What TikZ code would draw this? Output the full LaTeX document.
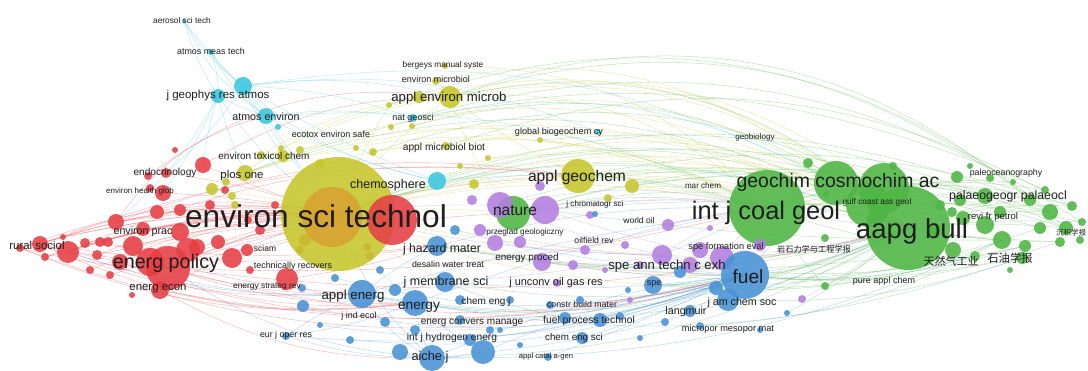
\documentclass[tikz,border=0pt]{standalone}
\usepackage{fontspec}
\setmainfont{Liberation Sans}
\newfontfamily\cjkf{Noto Sans CJK SC}
\usetikzlibrary{backgrounds}
\definecolor{vred}{RGB}{230,62,68}
\definecolor{vgreen}{RGB}{78,182,68}
\definecolor{vblue}{RGB}{72,146,214}
\definecolor{vyellow}{RGB}{198,198,44}
\definecolor{vpurple}{RGB}{178,126,224}
\definecolor{vcyan}{RGB}{58,198,222}
\definecolor{vorange}{RGB}{216,162,48}
\definecolor{labc}{RGB}{30,30,30}
\begin{document}
\begin{tikzpicture}[x=1pt,y=-1pt,
  bub/.style={circle,inner sep=0pt,draw=none,fill opacity=0.88},
  edge/.style={line width=0.55pt,opacity=0.32},
  lab/.style={inner sep=0pt,anchor=base,text=labc,font=\fontsize{#1}{#1}\selectfont}]
\useasboundingbox (0,0) rectangle (1088,371);
% ---------------- bubbles ----------------
\foreach \n/\x/\y/\r in {ep/168/268/22, ep2/150/262/14, ep3/188/250/12, r116/116/222/8, r163/163/193/8,
  r157/157/212/7, r143/143/229/7, r203/203/165/8, endo/166/173/5, r148/148/176/4, r40/40/244/8,
  r68/68/252/11, r85/85/243/5, r100/100/242/5, r108/108/242/5, r97/97/255/5, r63/63/237/3, r45/45/257/4,
  r120/120/262/8, r132/132/295/3, econ/160/290/9, r197/197/247/8, r218/218/242/7, r232/232/258/10,
  r247/247/250/6, r287/287/279/11, r370/370/256/4, r367/367/247/4, r133/133/246/10,
  r180/180/232/9, r210/210/205/5, r225/225/190/4, r260/260/230/5, r275/275/205/4, r180b/180/210/6,
  r150/150/188/4, r175/175/150/3, r300/300/250/4, r20/20/248/4, r90/90/270/4, r110/110/275/4,
  r250/250/270/4, r305/305/240/6, r248/248/220/4}
  \node[bub,fill=vred,minimum size=2*\r] (\n) at (\x,\y) {};
\foreach \n/\x/\y/\r in {est/338/214/57, aem/450/97/11, aem2/419/97/6, em/436/81/4, bms/445/66/3,
  y389/389/105/3, y391/391/127/3, y412/412/126/3, y373/373/152/4, y445/446/146/4, y488/488/158/3,
  y540/540/140/3, ag/578/176/17, y632/632/186/7, y608/608/198/4, plos/245/173/8, y262/261/155/4,
  y283/283/156/6, y282/281/148/3, y320/320/164/5, y212/212/189/6, y232/232/196/4, y226/226/182/4,
  y300/300/150/4, y460/460/166/3, y474/474/184/5, y355/356/148/3, y235/235/205/4}
  \node[bub,fill=vyellow,minimum size=2*\r] (\n) at (\x,\y) {};
\node[bub,fill=vorange,minimum size=60] (esto) at (332,217) {};
\node[bub,fill=vred,minimum size=50] (estr) at (392,220) {};
\foreach \n/\x/\y/\r in {jgr1/218/96/7, jgr2/243/86/9, ae/266/116/8, amt/211/52/3, aer/184/21/2,
  chemc/437/181/9, ngc/413/118/4, gbc/598/132/3, c278/278/127/3}
  \node[bub,fill=vcyan,minimum size=2*\r] (\n) at (\x,\y) {};
\foreach \n/\x/\y/\r in {g870/868/205/22, coal/767/208/38, geo1/836/183/22, geo2/884/188/25, aapg/908/228/42,
  nature/513/213/17, g808/808/163/5, g893/893/166/4, g957/957/177/6, g970/970/166/3, g1013/1013/182/3,
  g960/960/200/6, g985/985/196/8, g1000/1000/212/6, g1030/1030/200/6, g1050/1050/212/8, g1040/1040/228/6,
  g1060/1060/242/5, g1072/1072/206/5, g1002/1002/240/9, g1025/1025/246/6, g975/975/256/5, g953/953/250/8,
  g935/935/230/6, g963/963/218/7, g1022/1022/258/6, g1066/1066/228/7, g1082/1082/222/4, g825/825/238/4,
  g825b/826/194/3, g825c/825/286/4, g985b/985/225/9, g940/940/205/5, g1045/1045/190/4, g1010/1010/270/3,
  g1080/1080/240/4, g990/990/178/4, g952/952/212/5}
  \node[bub,fill=vgreen,minimum size=2*\r] (\n) at (\x,\y) {};
\foreach \n/\x/\y/\r in {np1/500/205/13, np2/545/210/14, p495/495/243/8, p542/542/262/9, p668/668/225/6,
  p710/710/228/3, sa1/662/255/10, sa2/700/250/8, sa3/690/265/8, sa4/722/258/12, p540/540/186/5,
  p585/585/250/5, p625/625/245/4, p573/573/265/5, p557/557/283/4, p802/802/299/4, p480/480/230/6,
  p520/520/242/6, p640/640/265/4, p605/605/270/3, p760/760/245/6, p470/472/200/5, p590/590/215/4, p630/630/300/3}
  \node[bub,fill=vpurple,minimum size=2*\r] (\n) at (\x,\y) {};
\foreach \n/\x/\y/\r in {fuel/745/275/24, fuel2/728/300/11, fuel3/716/288/7, aen/362/294/14, energy/415/303/13,
  jhm/437/246/10, jms/445/282/10, aiche/432/358/13, b402/400/352/8, b483/483/352/12, b335/335/278/4,
  b302/302/288/4, b303/303/306/6, eur/286/336/4, b550/550/305/4, b565/565/318/6, b600/600/320/7,
  b582/582/338/6, b620/620/316/4, spe/653/285/9, b690/690/311/6, b665/665/322/4, b700/700/326/4,
  b787/787/313/3, b548/548/357/4, b500/500/330/3, b510/510/300/4, b385/385/322/5, b350/350/340/4,
  b460/460/320/5, b490/490/330/4, b595/595/214/3, b680/680/272/6, b380/380/270/4, b460b/460/300/5,
  b320/320/325/3, b520/520/345/3, b640/640/338/3, b760/760/330/3, b580b/580/300/4, b470/470/340/6,
  b415/415/330/5, b395/395/290/6, b628/628/290/3, b455/455/230/5}
  \node[bub,fill=vblue,minimum size=2*\r] (\n) at (\x,\y) {};
% ---------------- edges ----------------
\begin{pgfonlayer}{background}
\fill[white] (0,0) rectangle (1088,371);
\foreach \a/\b/\t in {r40/est/12, r40/estr/14, r40/ep/-4, r68/est/10, r68/estr/12, r68/ep/3, r45/est/8,
  r20/est/14, r20/estr/10, r20/ep/-6, r85/est/6, r97/estr/6, r100/est/8, r116/est/6, r116/estr/10,
  r133/est/5, r133/estr/8, r120/energy/-12, ep/est/6, ep/estr/8, ep/energy/-10, ep/aen/-8, ep/fuel/-14,
  ep/aapg/-10, ep/coal/-8, ep/nature/6, r163/est/4, r143/estr/5, r157/est/3, r203/est/-3, r203/aem/15,
  endo/est/5, r148/aem/22, econ/est/5, econ/energy/-10, econ/aiche/-15, r232/estr/4, r287/estr/6,
  r287/jhm/-4, r197/estr/5, r218/est/4, r180/estr/8, r40/jhm/-8, r40/energy/-15, r20/fuel/-18,
  r116/ag/14, r68/ag/15, ep/ag/10, r116/ae/20, r90/est/10, r110/estr/6, r63/est/16, r40/aen/-12,
  r68/fuel/-16, econ/fuel/-12, r120/est/9, r20/energy/-14, r45/estr/11, r97/est/12, r63/estr/9,
  r85/jhm/-6, r108/aen/-8, r40/ag/13}
  \draw[edge,vred] (\a.center) to[bend left=\t] (\b.center);
\foreach \a/\b/\t in {aem/coal/24, aem/aapg/26, aem/geo2/24, aem2/aapg/28, bms/coal/24, em/geo1/26,
  est/aem/10, plos/aem/15, plos/coal/20, plos/aapg/22, y283/geo1/22, est/coal/12, est/aapg/15,
  est/geo2/16, est/geo1/14, est/ag/8, ag/coal/8, ag/aapg/10, ag/geo2/9, y632/coal/5, y632/aapg/8,
  est/nature/5, est/fuel/-8, y373/coal/18, y445/aapg/20, y412/geo1/24, y320/aapg/20, y212/est/3,
  y226/aem/12, est/jms/-6, nature/aem/10, ag/aem/5, y389/est/-5, y540/coal/10, y300/coal/20,
  est/energy/-10, est/spe/-8, est/sa4/-4, y262/aem/14, y488/aapg/14, y460/geo2/16}
  \draw[edge,vyellow] (\a.center) to[bend left=\t] (\b.center);
\foreach \a/\b/\t in {coal/aapg/10, coal/geo2/8, coal/geo1/6, geo1/aapg/5, coal/g1050/12, aapg/g1050/8,
  aapg/g1072/10, aapg/g1030/8, aapg/g1066/5, aapg/g1002/-3, aapg/g1060/-5, coal/g985/15, geo2/g1013/6,
  geo2/g1045/8, geo2/g1072/10, nature/coal/10, nature/aapg/14, nature/geo2/12, est/aapg/20, est/coal/17,
  est/geo2/19, aem/aapg/28, y412/aapg/26, plos/aapg/24, chemc/aapg/22, y373/geo2/22, fuel/aapg/-12,
  fuel/g1002/-14, spe/aapg/-12, sa4/aapg/-8, sa1/coal/-2, jms/aapg/-16, energy/aapg/-18, aen/aapg/-16,
  coal/g953/-6, coal/g825c/-5, g825c/aapg/-8, nature/g1050/16, est/g1030/21, aem/g1050/28,
  aem/g1030/30, y389/g1066/30, ag/g1072/14, ag/g1040/10, p542/g1025/-10, fuel/g1060/-12,
  jhm/aapg/-12, aiche/aapg/-14, spe/g1040/-10, coal/g1082/8, fuel2/g1022/-10, fuel2/aapg/-10,
  b787/aapg/-6, fuel3/g975/-8, b700/g1002/-12, spe/g975/-10, sa3/g1025/-10, np2/g1002/-4,
  ag/g985/8, nature/g963/6, coal/g1060/-4, geo1/g1066/6, g870/g1050/5, aapg/g1082/4,
  est/g985/17, jhm/g953/-8, p573/aapg/-10, np1/geo1/13, y632/g1030/10, b680/g1022/-8,
  y445/g1072/24, plos/g1045/22, ngc/g1082/24, y540/g1066/14}
  \draw[edge,vgreen] (\a.center) to[bend left=\t] (\b.center);
\foreach \a/\b/\t in {energy/fuel/-12, aen/fuel/-14, aiche/fuel/8, jhm/fuel/-4, jms/fuel/-6, b483/fuel/6,
  energy/aiche/-10, aen/aiche/-15, aen/energy/-5, eur/energy/-6, eur/aen/5, b303/fuel/-16, b302/energy/-8,
  fuel/aapg/-8, fuel/coal/15, fuel/geo2/20, spe/fuel/-5, b600/fuel/-5, b565/fuel/-8, b690/fuel/-4,
  aiche/b483/-5, b402/aiche/-5, est/aiche/-15, jhm/coal/8, energy/coal/5, aen/coal/4, aiche/aapg/-10,
  b550/fuel/-6, b470/fuel/-6, b415/fuel/-10, b335/fuel/-14, jms/b565/-5, b582/fuel/-4, b548/fuel/-2,
  r68/aen/-10, eur/fuel/-12, b320/fuel/-15, jhm/aen/-6, b455/fuel/-5, ep/aiche/-14, r120/aen/-10,
  eur/aiche/-8, b350/fuel/-14, aiche/g1002/-12, energy/g1022/-14, fuel/g1025/-10, b460/fuel/-8,
  aen/jms/-4, energy/b483/-6}
  \draw[edge,vblue] (\a.center) to[bend left=\t] (\b.center);
\foreach \a/\b/\t in {sa4/coal/6, sa1/coal/10, sa4/aapg/-6, np2/coal/8, np2/aapg/10, np1/coal/12,
  sa1/fuel/-4, p542/fuel/-5, p495/sa1/-3, np1/sa1/-5, est/sa1/-6, est/np1/4, p542/aapg/-8, sa2/aapg/-10,
  np2/sa4/-3, jms/sa1/-3, p585/coal/6, p668/coal/5, p802/aapg/-5, p480/sa4/-6}
  \draw[edge,vpurple] (\a.center) to[bend left=\t] (\b.center);
\foreach \a/\b/\t in {aer/jgr2/-10, aer/jgr1/-8, aer/ae/-15, amt/jgr1/10, amt/jgr2/-10, amt/ae/-12,
  jgr1/ae/-5, jgr2/ae/5, jgr1/est/-10, jgr2/est/-5, ae/est/-3, ae/chemc/-8, jgr2/chemc/-5, jgr2/aem/10,
  jgr2/ngc/8, ae/ngc/8, jgr2/gbc/14, jgr2/geo1/18, ae/coal/14, r203/jgr1/5, jgr1/plos/-5, jgr2/y283/-5,
  chemc/coal/10, chemc/aapg/15, ngc/geo1/20, r116/jgr1/-10, r163/jgr1/-5, endo/jgr2/-8, aer/chemc/-20}
  \draw[edge,vcyan] (\a.center) to[bend left=\t] (\b.center);
\end{pgfonlayer}
% ---------------- labels ----------------
\foreach \n/\x/\y/\s/\t in {
  l1/182/21/8.3/aerosol sci tech, l2/211/52/8.9/atmos meas tech, l3/218/95/11.5/j geophys res atmos,
  l4/266/117/10.7/atmos environ, l5/331/135/9/ecotox environ safe, l6/165/172/10.1/endocrinology,
  l7/264/157/10/environ toxicol chem, l8/242/175/11.4/plos one, l9/443/65/8.3/bergeys manual syste,
  l10/436/80/9/environ microbiol, l11/449/98/13.2/appl environ microb, l12/413/118/9/nat geosci,
  l13/559/132/9.1/global biogeochem cy, l14/444/147/10.2/appl microbiol biot, l15/388/185/12.5/chemosphere,
  l16/577/177/15.6/appl geochem, l17/703/186/8.1/mar chem, l18/755/137/8.1/geobiology,
  l19/838/182/19.4/geochim cosmochim ac, l20/1006/173/8.8/paleoceanography,
  l21/1008/196/12.3/palaeogeogr palaeocl, l22/877/202/8.3/gulf coast ass geol,
  l23/993/217/9.5/revi fr petrol, l24/884/281/9/pure appl chem, l25/515/211/15.5/nature,
  l26/595/204/8.1/j chromatogr sci, l27/639/221/8.5/world oil, l28/525/232/8.2/przeglad geologiczny,
  l29/594/241/8.7/oilfield rev, l30/726/247/9.2/spe formation eval, l31/667/266/13.1/spe ann techn c exh,
  l32/748/278/19.2/fuel, l33/654/283/9/spe, l34/742/302/10.7/j am chem soc, l35/686/311/10.7/langmuir,
  l36/728/329/9.2/micropor mesopor mat, l37/442/249/12.2/j hazard mater, l38/448/265/8.8/desalin water treat,
  l39/527/258/9.9/energy proced, l40/446/282/12.5/j membrane sci, l41/556/282/10.9/j unconv oil gas res,
  l42/353/296/13.3/appl energ, l43/359/316/8.9/j ind ecol, l44/419/305/13.7/energy,
  l45/486/302/10/chem eng j, l46/472/322/10/energ convers manage, l47/452/337/10.2/int j hydrogen energ,
  l48/430/357/12.8/aiche j, l49/582/305/8.8/constr build mater, l50/589/320/10.3/fuel process technol,
  l51/574/338/9.8/chem eng sci, l52/546/356/7.6/appl catal a-gen, l53/286/335/8.8/eur j oper res,
  l54/267/286/8.4/energy strateg rev, l55/293/266/8.9/technically recovers, l56/265/249/8.5/sciam,
  l57/140/191/8/environ health glob, l58/143/231/10.7/environ prac, l59/37/246/11.4/rural sociol,
  l60/166/263/19.7/energ policy, l61/158/287/11.4/energ econ, l62/316/218/31.6/environ sci technol,
  l63/766/212/25.4/int j coal geol, l64/912/230/27.6/aapg bull}
  \node[lab=\s] (\n) at (\x,{\y+0.3*\s}) {\t};
\node[lab=8.2,font=\cjkf\fontsize{8.2}{8.2}\selectfont] (c1) at (814,{250+2.5}) {岩石力学与工程学报};
\node[lab=11,font=\cjkf\fontsize{11}{11}\selectfont] (c2) at (951,{262+3.3}) {天然气工业};
\node[lab=11.3,font=\cjkf\fontsize{11.3}{11.3}\selectfont] (c3) at (1010,{259+3.4}) {石油学报};
\node[lab=7.5,anchor=base west,font=\cjkf\fontsize{7.5}{7.5}\selectfont] (c4) at (1056,{233+2.3}) {沉积学报};
\end{tikzpicture}
\end{document}
